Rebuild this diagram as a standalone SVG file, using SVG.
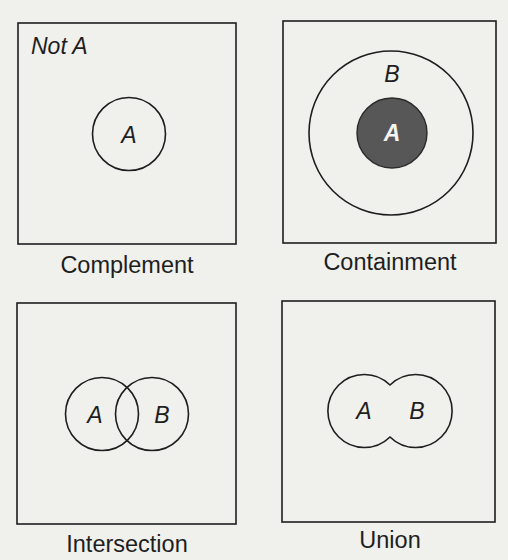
<svg xmlns="http://www.w3.org/2000/svg" width="508" height="560" viewBox="0 0 508 560">
<style>
.bg{fill:#f0f0ed}
.box{fill:none;stroke:#1e1e1e;stroke-width:1.6}
.set{fill:none;stroke:#1e1e1e;stroke-width:1.6}
.dark{fill:#575757;stroke:#2a2a2a;stroke-width:1.4}
.lbl{font-family:"Liberation Sans",Arial,sans-serif;font-style:italic;font-size:23px;fill:#1e1e1e;text-anchor:middle}
.cap{font-family:"Liberation Sans",Arial,sans-serif;font-size:23.5px;fill:#1e1e1e;text-anchor:middle}
</style>
<rect class="bg" x="0" y="0" width="508" height="560"/>
<g id="complement">
<rect class="box" x="18" y="23" width="218" height="221"/>
<text class="lbl" x="31" y="54" style="text-anchor:start">Not A</text>
<circle class="set" cx="129" cy="134" r="36.5"/>
<text class="lbl" x="129" y="143">A</text>
<text class="cap" x="127" y="273">Complement</text>
</g>
<g id="containment">
<rect class="box" x="283" y="21" width="213" height="222"/>
<circle class="set" cx="391" cy="133" r="82"/>
<text class="lbl" x="392" y="82">B</text>
<circle class="dark" cx="392" cy="133" r="35"/>
<text class="lbl" x="392" y="141" style="fill:#f4f4f4;font-weight:bold">A</text>
<text class="cap" x="390" y="270">Containment</text>
</g>
<g id="intersection">
<rect class="box" x="17" y="303" width="219" height="221"/>
<circle class="set" cx="102" cy="414" r="36.5"/>
<circle class="set" cx="152" cy="414" r="36.5"/>
<text class="lbl" x="95" y="423">A</text>
<text class="lbl" x="162" y="423">B</text>
<text class="cap" x="127" y="552">Intersection</text>
</g>
<g id="union">
<rect class="box" x="282" y="301" width="213" height="221"/>
<path class="set" d="M390 385 A36.5 36.5 0 1 0 390 437 A36.5 36.5 0 1 0 390 385 Z"/>
<text class="lbl" x="364" y="419">A</text>
<text class="lbl" x="417" y="419">B</text>
<text class="cap" x="390" y="548">Union</text>
</g>
<g id="connectors"/>
</svg>
